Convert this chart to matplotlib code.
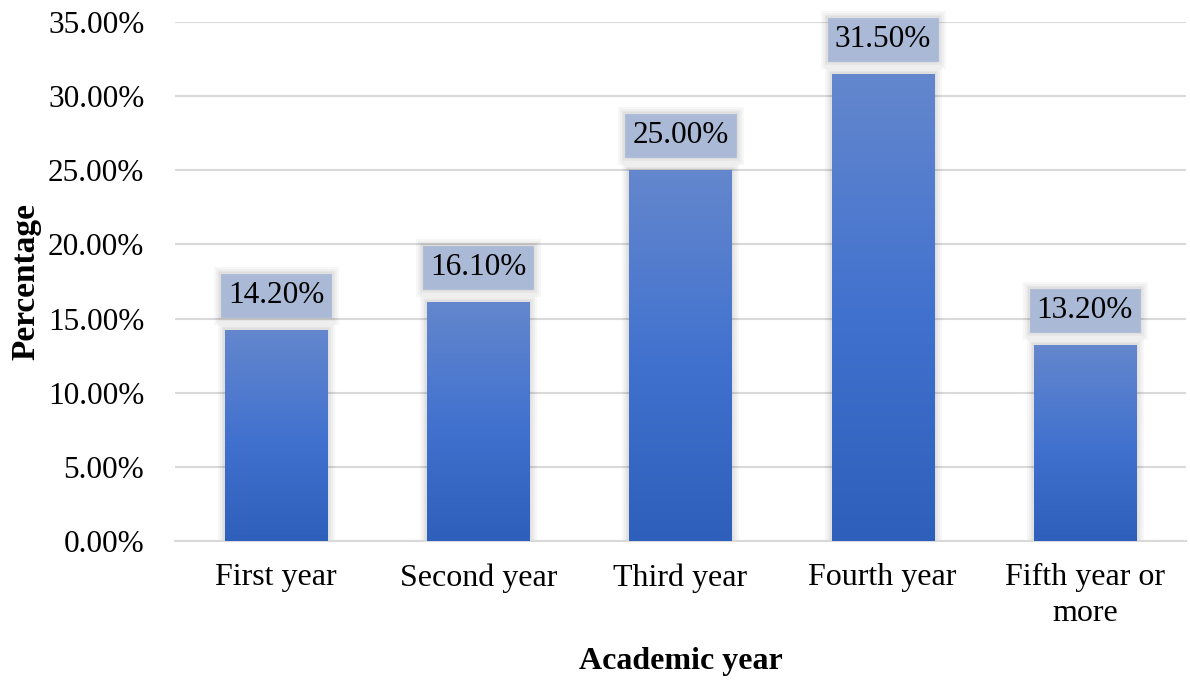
import numpy as np
import matplotlib
matplotlib.use("Agg")
import matplotlib.pyplot as plt
import matplotlib.patheffects as pe
from matplotlib.ticker import FuncFormatter, MultipleLocator
import matplotlib.colors as mcolors

# data
categories = ["First year", "Second year", "Third year", "Fourth year", "Fifth year or\nmore"]
values = [14.2, 16.1, 25.0, 31.5, 13.2]

plt.rcParams['font.family'] = ['Liberation Serif', 'DejaVu Serif']

fig = plt.figure(figsize=(11.9, 6.8), dpi=100)
ax = fig.add_axes([0.147, 0.2044, 0.8496, 0.7632])

x = np.arange(len(categories))
width = 0.505

# gradient for bars: lighter at top, darker at bottom
grad_cmap = mcolors.LinearSegmentedColormap.from_list(
    "bargrad", ["#2E5FBB", "#4272CF", "#6487CD"])
grad = np.linspace(0, 1, 256).reshape(-1, 1)

# soft glow / shadow made of stacked translucent strokes
glow = [pe.Stroke(linewidth=lw, foreground="black", alpha=0.03)
        for lw in (11, 8, 5, 3)]

bars = ax.bar(x, values, width=width, facecolor="none", edgecolor="#4472C4",
              lw=0.5, zorder=2.5)

for b in bars:
    b.set_path_effects(glow + [pe.Normal()])
    x0, y0 = b.get_x(), b.get_y()
    w, h = b.get_width(), b.get_height()
    im = ax.imshow(grad, cmap=grad_cmap, aspect="auto", origin="lower",
                   extent=[x0, x0 + w, y0, y0 + h], zorder=3)
    im.set_clip_path(b)

# data labels with boxes
for xi, v in zip(x, values):
    ann = ax.annotate(f"{v:.2f}%", xy=(xi, v), xytext=(0, 25),
                      textcoords="offset points", ha="center", va="center",
                      fontsize=22.5, color="black", zorder=6,
                      bbox=dict(boxstyle="square,pad=0.22", fc="#A9B9D6",
                                ec="#A9B9D6", lw=0.5))
    ann.get_bbox_patch().set_path_effects(glow + [pe.Normal()])

ax.set_xlim(-0.5, len(categories) - 0.5)
ax.set_ylim(0, 35)
ax.yaxis.set_major_locator(MultipleLocator(5))
ax.yaxis.set_major_formatter(FuncFormatter(lambda v, p: f"{v:.2f}%"))
ax.set_xticks(x)
ax.set_xticklabels(categories, fontsize=23, linespacing=1.3)
ax.tick_params(axis="y", labelsize=22.5, length=0, pad=22)
ax.tick_params(axis="x", length=0, pad=16)

ax.grid(axis="y", color="#D9D9D9", lw=1.5, zorder=0)
ax.set_axisbelow(True)
for s in ["top", "right", "left"]:
    ax.spines[s].set_visible(False)
ax.spines["bottom"].set_color("#D9D9D9")
ax.spines["bottom"].set_linewidth(1.5)

ax.set_xlabel("Academic year", fontsize=23, fontweight="bold", labelpad=14)
ax.set_ylabel("Percentage", fontsize=24, fontweight="bold", labelpad=5)

fig.savefig("out.png", dpi=100)
